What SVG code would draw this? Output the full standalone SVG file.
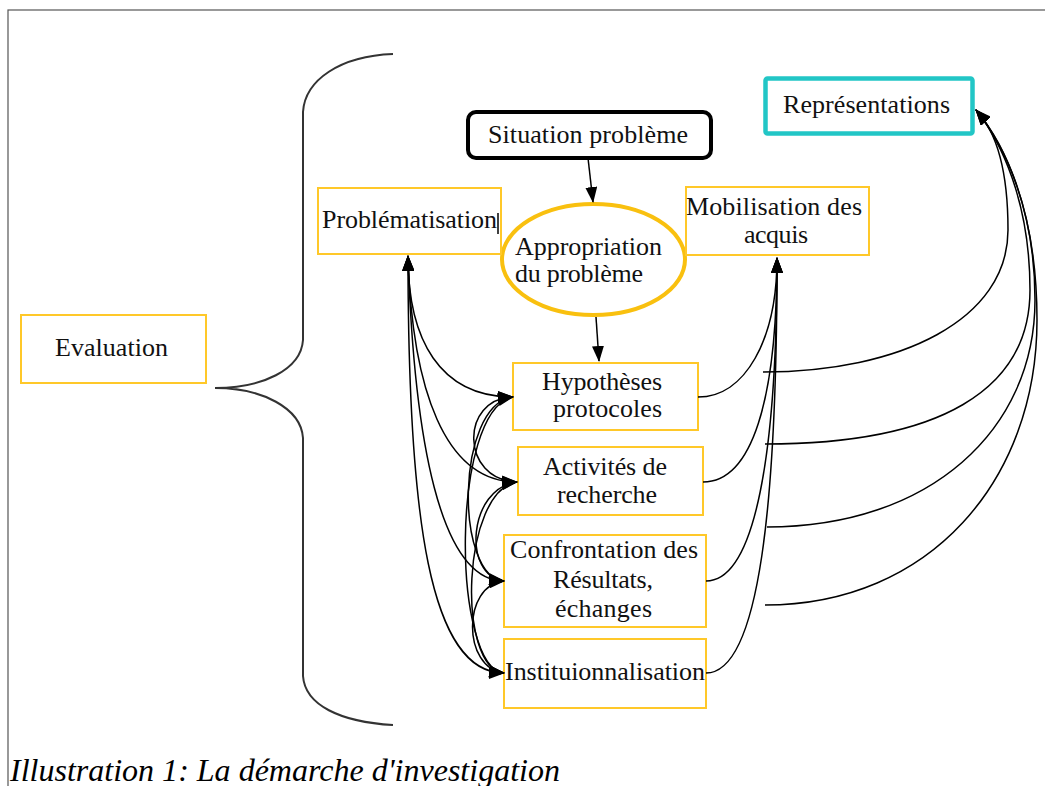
<svg xmlns="http://www.w3.org/2000/svg" width="1045" height="786" viewBox="0 0 1045 786">
<style>
.box{fill:#fff;stroke:#ffc829;stroke-width:2}
.t{font-family:"Liberation Serif","Times New Roman",serif;font-size:26px;fill:#111}
.c{fill:none;stroke:#000;stroke-width:1.5}
</style>
<defs>
<marker id="ah" viewBox="0 0 16 12" markerUnits="userSpaceOnUse" markerWidth="16" markerHeight="12" refX="15" refY="6" orient="auto-start-reverse">
<path d="M0,0 L16,6 L0,12 z" fill="#000"/>
</marker>
</defs>
<rect x="0" y="0" width="1045" height="786" fill="#fff"/>
<rect x="8" y="10" width="1060" height="800" fill="none" stroke="#555" stroke-width="1.2"/>

<g id="brace">
<path d="M393,54 C340,56 305,80 303,112 L303,340 C301,370 262,388 215,388 C262,388 301,408 303,438 L303,676 C305,705 340,722 393,725" fill="none" stroke="#333" stroke-width="2"/>
</g>

<g id="evaluation">
<rect class="box" x="21" y="315" width="185" height="68"/>
<text class="t" x="55" y="356" textLength="113">Evaluation</text>
</g>

<g id="situation">
<rect x="468" y="112" width="243" height="46" rx="8" fill="#fff" stroke="#000" stroke-width="4"/>
<text class="t" x="488" y="143" textLength="200">Situation problème</text>
</g>

<g id="representations">
<rect x="765.5" y="78.5" width="207" height="55" rx="2" fill="#fff" stroke="#22c6c6" stroke-width="4.5"/>
<text class="t" x="783" y="113" textLength="167">Représentations</text>
</g>

<g id="appropriation">
<ellipse cx="593.5" cy="259.5" rx="91.5" ry="55.5" fill="#fff" stroke="#f9c00f" stroke-width="4"/>
<text class="t" x="515" y="255" textLength="147">Appropriation</text>
<text class="t" x="515" y="282" textLength="128">du problème</text>
</g>

<g id="problematisation">
<rect class="box" x="318" y="188" width="183" height="66"/>
<text class="t" x="322" y="228" textLength="175">Problématisation</text>
<line x1="498" y1="213" x2="498" y2="234" stroke="#000" stroke-width="1.5"/>
</g>

<g id="mobilisation">
<rect class="box" x="686" y="187" width="183" height="68"/>
<text class="t" x="686" y="215" textLength="176">Mobilisation des</text>
<text class="t" x="744" y="243" textLength="64">acquis</text>
</g>

<g id="hypotheses">
<rect class="box" x="513" y="363" width="185" height="67"/>
<text class="t" x="542" y="390" textLength="120">Hypothèses</text>
<text class="t" x="553" y="417" textLength="109">protocoles</text>
</g>

<g id="activites">
<rect class="box" x="518" y="447" width="185" height="68"/>
<text class="t" x="543" y="475" textLength="124">Activités de</text>
<text class="t" x="557" y="503" textLength="100">recherche</text>
</g>

<g id="confrontation">
<rect class="box" x="504" y="535" width="202" height="92"/>
<text class="t" x="510" y="558" textLength="188">Confrontation des</text>
<text class="t" x="553" y="588" textLength="100">Résultats,</text>
<text class="t" x="555" y="617" textLength="97">échanges</text>
</g>

<g id="institutionnalisation">
<rect class="box" x="504" y="639" width="202" height="69"/>
<text class="t" x="505" y="680" textLength="200">Instituionnalisation</text>
</g>

<g id="connectors">
<path class="c" d="M588,158 L593,202" marker-end="url(#ah)"/>
<path class="c" d="M596,317 L599,361" marker-end="url(#ah)"/>

<path class="c" d="M408,256 C408,340 440,397 513,397" marker-start="url(#ah)" marker-end="url(#ah)"/>
<path class="c" d="M408,256 C412,390 445,482 517,482" marker-start="url(#ah)" marker-end="url(#ah)"/>
<path class="c" d="M408,256 C414,440 440,581 504,581" marker-start="url(#ah)" marker-end="url(#ah)"/>
<path class="c" d="M408,256 C408,520 430,673 504,673" marker-start="url(#ah)" marker-end="url(#ah)"/>
<path class="c" d="M513,397 C460,398 460,480 517,482" marker-start="url(#ah)" marker-end="url(#ah)"/>
<path class="c" d="M513,397 C455,405 455,578 504,581" marker-start="url(#ah)" marker-end="url(#ah)"/>
<path class="c" d="M513,397 C450,410 452,668 504,673" marker-start="url(#ah)" marker-end="url(#ah)"/>
<path class="c" d="M517,482 C468,488 462,576 504,581" marker-start="url(#ah)" marker-end="url(#ah)"/>
<path class="c" d="M517,482 C462,490 456,668 504,673" marker-start="url(#ah)" marker-end="url(#ah)"/>
<path class="c" d="M504,581 C462,585 462,668 504,673" marker-start="url(#ah)" marker-end="url(#ah)"/>

<path class="c" d="M698,397 C745,397 777,340 777,258" marker-end="url(#ah)"/>
<path class="c" d="M703,482 C752,482 777,400 777,258" marker-end="url(#ah)"/>
<path class="c" d="M706,581 C756,581 777,450 777,258" marker-end="url(#ah)"/>
<path class="c" d="M706,673 C760,673 777,500 777,258" marker-end="url(#ah)"/>

<path class="c" d="M763,372 C900,372 1008,320 1008,230 C1008,170 997,132 976,110" marker-end="url(#ah)"/>
<path class="c" d="M765,444 C940,444 1030,390 1030,290 C1030,200 1000,140 976,110" marker-end="url(#ah)"/>
<path class="c" d="M767,527 C930,527 1035,430 1035,300 C1035,205 1002,142 976,110" marker-end="url(#ah)"/>
<path class="c" d="M765,605 C930,605 1037,480 1037,320 C1037,210 1004,143 976,110" marker-end="url(#ah)"/>
</g>

<text x="10" y="781" font-family="Liberation Serif, serif" font-style="italic" font-size="31" fill="#000" textLength="550" lengthAdjust="spacingAndGlyphs">Illustration 1: La démarche d'investigation</text>
</svg>
